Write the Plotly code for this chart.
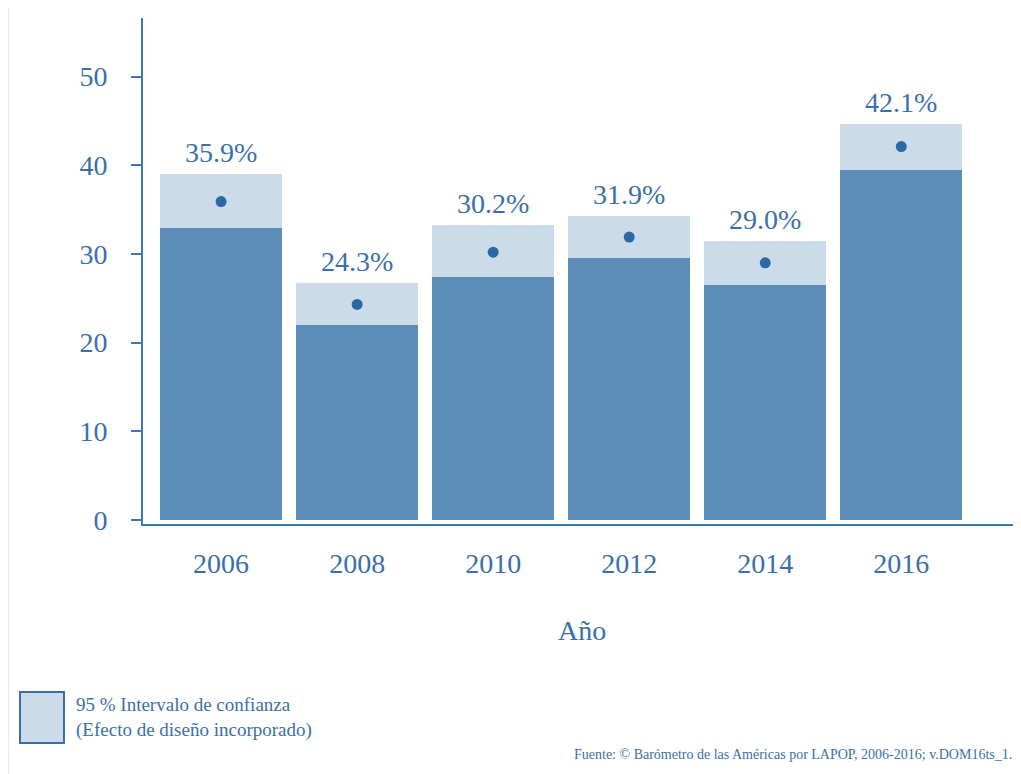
import plotly.graph_objects as go

years = ["2006", "2008", "2010", "2012", "2014", "2016"]
means = [35.9, 24.3, 30.2, 31.9, 29.0, 42.1]
ci_low = [32.9, 22.0, 27.4, 29.5, 26.5, 39.5]
ci_high = [39.0, 26.7, 33.3, 34.3, 31.5, 44.6]
labels = ["35.9%", "24.3%", "30.2%", "31.9%", "29.0%", "42.1%"]
y_ticks = [0, 10, 20, 30, 40, 50]

OFF = 8  # page body margin
W, H = 1021 - OFF, 774 - OFF
L, R, T, B = 143 - OFF, 1021 - OFF, 18 - OFF, 524 - OFF

def px(x):
    return (x - OFF - L) / (R - L)

def py(y):
    return (B - (y - OFF)) / (B - T)

TXT = "#3a70a8"
AX = "#3d78b3"
DARK = "#5b8db8"
LIGHT = "#ccdbe9"
DOT = "#2c68a3"
FONT = "Liberation Serif, Times New Roman, serif"

fig = go.Figure()
fig.add_trace(go.Bar(x=years, y=ci_low, marker=dict(color=DARK, line=dict(width=0)),
                     width=0.897, showlegend=False, hoverinfo="skip"))
fig.add_trace(go.Bar(x=years, y=[h - l for h, l in zip(ci_high, ci_low)], base=ci_low,
                     marker=dict(color=LIGHT, line=dict(width=0)),
                     width=0.897, showlegend=False, hoverinfo="skip"))
fig.add_trace(go.Scatter(x=years, y=means, mode="markers",
                         marker=dict(color=DOT, size=11), showlegend=False))

for i, (top, lab) in enumerate(zip(ci_high, labels)):
    fig.add_annotation(x=i, y=top, text=lab, showarrow=False, xanchor="center",
                       yanchor="bottom", yshift=4,
                       font=dict(family=FONT, size=28, color=TXT))

fig.update_layout(
    width=W, height=H,
    margin=dict(l=L, r=W - R, t=T, b=H - B),
    paper_bgcolor="white", plot_bgcolor="white",
    barmode="overlay", bargap=0,
    font=dict(family=FONT, color=TXT),
    xaxis=dict(type="category", range=[-0.574, 5.88], showline=True, linecolor=AX,
               linewidth=2, showgrid=False, ticks="", zeroline=False,
               tickfont=dict(family=FONT, size=28, color=TXT), ticklabelstandoff=13),
    yaxis=dict(range=[-0.45, 56.6], showline=True, linecolor=AX, linewidth=2,
               showgrid=False, zeroline=False, tickvals=y_ticks,
               ticks="outside", ticklen=10, tickcolor=AX, tickwidth=2,
               tickfont=dict(family=FONT, size=28, color=TXT), ticklabelstandoff=18),
)

# frame
fig.add_shape(type="rect", xref="paper", yref="paper",
              x0=px(8), x1=px(1040), y0=py(790), y1=py(7),
              line=dict(color="#dcdcdc", width=1), fillcolor="rgba(0,0,0,0)")

# x axis title
fig.add_annotation(text="Año", xref="paper", yref="paper", x=0.5, y=py(630),
                   showarrow=False, font=dict(family=FONT, size=28, color=TXT),
                   xanchor="center", yanchor="middle")

# legend box
fig.add_shape(type="rect", xref="paper", yref="paper",
              x0=px(20), x1=px(64), y0=py(743), y1=py(692),
              line=dict(color="#3a6ea5", width=2), fillcolor=LIGHT)
fig.add_annotation(text="95 % Intervalo de confianza<br>(Efecto de diseño incorporado)",
                   xref="paper", yref="paper", x=px(74), y=py(717),
                   showarrow=False, align="left", xanchor="left", yanchor="middle",
                   font=dict(family=FONT, size=19, color=TXT))
fig.add_annotation(text="Fuente: © Barómetro de las Américas por LAPOP, 2006-2016; v.DOM16ts_1.",
                   xref="paper", yref="paper", x=px(1014), y=py(754),
                   showarrow=False, xanchor="right", yanchor="middle",
                   font=dict(family=FONT, size=14, color=TXT))

fig.write_html("out.html")
